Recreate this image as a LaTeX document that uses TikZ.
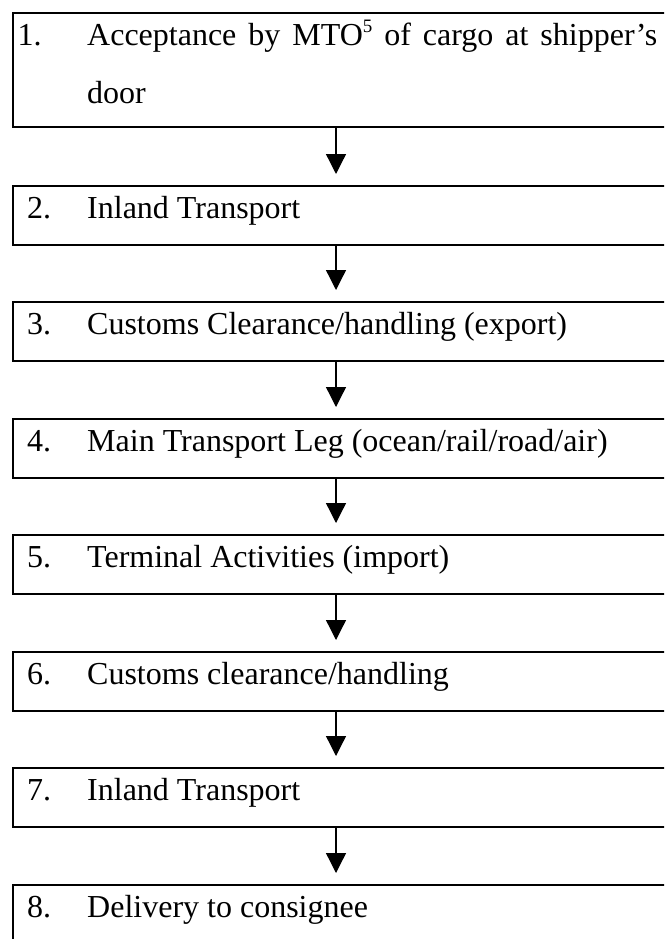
\documentclass[tikz,border=0pt]{standalone}
\usepackage{fontspec}
\setmainfont{Liberation Serif}
\usetikzlibrary{arrows.meta}
\begin{document}
\begin{tikzpicture}[x=1pt,y=-1pt,
  box/.style={draw, line width=2.4pt, rectangle, inner sep=0pt, outer sep=0pt, anchor=north west, minimum width=700pt},
  lbl/.style={anchor=base west, inner sep=0pt, font=\fontsize{32}{37}\selectfont},
  arr/.style={line width=1.3pt, -{Triangle[length=20pt,width=20pt]}, shorten >=12pt}]
\useasboundingbox (0,0) rectangle (664,939);
\clip (0,0) rectangle (664,939);
\coordinate (ax) at (336,0);
% box 1
\node[box, minimum height=114pt] (b1) at (12.7,13) {};
\node[lbl] (n1) at (17.5,46) {1.};
\node[lbl] (t1a) at (87,46) {\makebox[570pt][s]{Acceptance by MTO\raisebox{0.42em}{\fontsize{19}{19}\selectfont 5} of cargo at shipper’s}};
\node[lbl] (t1b) at (87,104) {door};
% boxes 2-8
\foreach \i/\top/\txt in {2/186/Inland Transport,
  3/302/Customs Clearance\slash handling (export),
  4/419/Main Transport Leg (ocean\slash rail\slash road\slash air),
  5/535/Terminal Activities (import),
  6/652/Customs clearance\slash handling,
  7/768/Inland Transport,
  8/885/Delivery to consignee}{
  \node[box, minimum height=59pt] (b\i) at (12.7,\top) {};
  \node[lbl] (n\i) at (27,\top+32) {\i.};
  \node[lbl] (t\i) at (87,\top+32) {\txt};
}
\foreach \a/\b in {1/2,2/3,3/4,4/5,5/6,6/7,7/8}{
  \draw[arr] (b\a.south -| ax) -- (b\b.north -| ax);
}
\end{tikzpicture}
\end{document}
